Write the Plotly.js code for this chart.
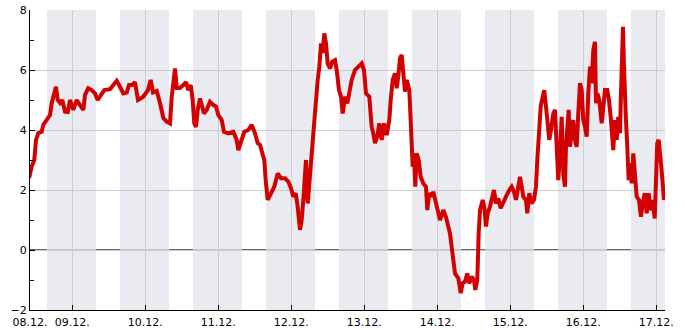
<!DOCTYPE html>
<html>
<head>
<meta charset="utf-8">
<script src="https://cdn.plot.ly/plotly-3.0.1.min.js"></script>
<style>html,body{margin:0;padding:0;background:#fff;}#chart{width:685px;height:330px;}</style>
</head>
<body>
<div id="chart"></div>
<script>
// Hours since 08.12. 00:00 and measured values
const hours = [9.8,10.65,11.5,12.07,12.82,13.94,14.47,15.58,16.67,17.23,18.08,18.64,19.2,19.96,20.71,21.6,22.49,23.24,24.33,25.45,26.53,27.62,28.18,29.26,30.38,31.46,32.35,33.44,34.52,36.39,37.48,38.6,39.68,40.77,41.89,42.64,43.73,44.61,45.6,47.24,48.89,49.78,50.53,51.75,52.83,53.92,55.04,56.12,56.68,57.21,57.77,58.32,59.41,60.49,61.38,62.14,62.93,63.58,64.11,64.67,65.23,65.98,66.74,67.3,68.19,69.27,70.36,71.25,72.0,73.12,73.87,75.29,76.93,78.05,78.58,79.46,80.55,81.86,82.98,84.07,84.95,85.71,86.47,87.12,87.58,88.24,89.33,90.41,91.53,92.61,93.93,95.01,95.9,96.66,97.45,98.1,98.86,99.42,99.95,100.5,100.83,101.39,101.82,102.48,103.04,103.56,104.12,104.68,105.21,105.77,106.32,106.85,107.41,107.97,108.72,109.48,110.37,110.93,111.68,112.34,112.9,113.66,114.41,115.07,115.86,116.94,118.03,119.15,119.9,120.56,121.64,122.43,122.96,123.52,124.28,124.93,125.72,126.48,127.37,128.22,128.68,129.34,130.09,130.65,131.18,131.74,132.3,132.82,133.38,133.94,134.8,135.35,135.91,136.34,136.77,137.23,137.89,138.54,139.4,140.29,140.71,141.37,142.16,142.69,143.57,144.33,144.89,145.97,146.86,148.18,149.06,149.82,150.91,151.7,152.35,153.11,153.86,154.52,155.31,156.07,156.5,157.15,157.61,158.04,158.93,159.45,160.01,160.57,161.33,162.21,162.64,163.3,164.06,164.85,165.7,166.59,167.67,168.46,169.22,169.87,170.63,171.19,171.75,172.27,173.16,173.59,174.25,175.04,175.8,176.45,176.88,177.54,178.0,178.66,179.18,179.74,180.17,180.82,181.38,182.14,182.7,183.26,183.78,184.34,184.9,185.42,185.98,186.31,186.74,187.2,187.63,188.19,188.71,189.27,189.83,190.36,190.92,191.48,192.0,192.56,193.12,193.65,194.21,194.77,195.29,195.85,196.18,196.6,197.26,198.05,198.58,199.13,199.89,200.45,201.01,201.44,201.86,202.42,202.98,203.51,204.07,204.4,204.72,205.05,205.38,205.71,206.04,206.47,206.93,207.36,207.92,208.44,209.0,209.56,210.31,210.97,211.53,212.19,212.85,213.5,214.16,214.82,215.48,215.9,216.33,216.79,217.22,217.65,218.11,218.53,218.96];
const temps = [2.4,2.78,3.0,3.67,3.9,3.94,4.17,4.33,4.5,4.9,5.23,5.44,5.0,4.9,5.0,4.61,4.6,5.0,4.67,5.0,4.83,4.67,5.17,5.39,5.33,5.22,5.0,5.17,5.33,5.36,5.5,5.64,5.44,5.22,5.25,5.5,5.5,5.6,5.0,5.1,5.33,5.67,5.25,5.3,4.9,4.4,4.28,4.22,5.1,5.67,6.05,5.4,5.4,5.5,5.6,5.33,5.5,5.0,4.22,4.1,4.67,5.05,4.67,4.55,4.67,4.94,4.83,4.78,4.5,4.33,3.94,3.89,3.94,3.67,3.33,3.61,3.94,4.0,4.17,3.89,3.56,3.5,3.22,3.0,2.33,1.67,1.89,2.11,2.55,2.39,2.39,2.28,2.06,1.78,1.89,1.44,0.67,1.0,1.67,2.67,3.0,1.55,2.11,3.0,3.67,4.44,5.11,5.67,6.11,6.89,6.56,7.22,6.89,6.22,6.05,6.28,6.33,6.0,5.33,5.11,4.55,5.11,4.89,5.33,5.67,6.0,6.11,6.22,6.0,5.22,5.11,4.11,3.89,3.56,3.78,4.22,3.67,4.22,3.83,4.33,5.0,5.67,5.89,5.39,5.78,6.39,6.5,5.67,5.28,5.67,5.33,4.11,2.78,3.22,2.11,3.22,3.0,2.44,2.22,2.11,1.33,1.89,1.78,1.94,1.55,1.33,1.0,1.33,1.1,0.55,-0.11,-0.78,-0.94,-1.44,-1.11,-1.06,-0.78,-1.11,-0.89,-1.0,-1.33,-1.0,0.55,1.33,1.67,1.44,0.78,1.22,1.44,1.78,2.0,1.55,1.72,1.39,1.55,1.78,2.0,2.11,1.94,1.67,2.11,2.44,2.11,1.78,1.67,1.22,1.89,1.55,1.67,2.11,3.0,3.89,4.78,5.11,5.33,4.78,4.44,3.67,4.0,4.55,4.67,3.67,2.33,3.22,4.44,2.55,2.11,3.44,4.33,4.67,3.44,3.89,4.33,3.67,3.44,4.55,5.56,5.33,4.33,4.11,3.78,5.22,6.11,5.56,6.67,6.94,4.89,5.22,5.0,4.22,4.67,5.33,5.33,5.0,4.44,3.56,3.33,4.33,3.67,4.44,3.89,5.22,6.56,7.44,6.11,4.78,4.33,3.44,2.33,2.89,2.22,3.22,2.55,1.78,1.67,1.11,1.55,1.89,1.22,1.89,1.33,1.67,1.05,2.67,3.56,3.67,3.0,2.78,2.22,1.67,1.89];
const dayLabels = ['08.12.','09.12.','10.12.','11.12.','12.12.','13.12.','14.12.','15.12.','16.12.','17.12.'];
const yTickVals = [-2,0,2,4,6,8];
const rangeStartH = 10.09, rangeEndH = 218.87;
const nightStartH = 15 + 40/60, nightEndH = 7 + 48/60;

const base = Date.UTC(2023, 11, 8, 0, 0, 0);
function pad(n){return String(n).padStart(2,'0');}
function fmt(h){
  const d = new Date(base + h*3600000);
  return d.getUTCFullYear()+'-'+pad(d.getUTCMonth()+1)+'-'+pad(d.getUTCDate())+' '+pad(d.getUTCHours())+':'+pad(d.getUTCMinutes())+':'+pad(d.getUTCSeconds());
}
const xs = hours.map(fmt);

const tickvals = dayLabels.map((l,i)=> i===0 ? fmt(rangeStartH) : fmt(i*24));

const shapes = [];
for (let d=0; d<dayLabels.length; d++){
  shapes.push({type:'rect', xref:'x', yref:'paper', x0:fmt(d*24+nightStartH), x1:fmt((d+1)*24+nightEndH), y0:0, y1:1,
    fillcolor:'#eaebf1', line:{width:0}, layer:'below'});
}
// full-width grey zero line (visible on shaded night bands)
shapes.push({type:'line', xref:'paper', yref:'y', x0:0, x1:1, y0:0, y1:0, line:{color:'#9a9a9a', width:1}, layer:'below'});
// black zero line segments during daytime (white) periods
for (let d=0; d<dayLabels.length; d++){
  const s = Math.max(d*24+nightEndH, rangeStartH), e = Math.min(d*24+nightStartH, rangeEndH);
  if (e > s) shapes.push({type:'line', xref:'x', yref:'y', x0:fmt(s), x1:fmt(e), y0:0, y1:0,
    line:{color:'#000', width:1}, layer:'below'});
}

const font = {family:'DejaVu Sans, sans-serif', size:11, color:'#000'};
Plotly.newPlot('chart', [{
  x: xs, y: temps, type:'scatter', mode:'lines',
  line:{color:'#d20000', width:4}, hoverinfo:'skip'
}], {
  width:685, height:330,
  margin:{l:30, r:20, t:10, b:20, pad:0},
  paper_bgcolor:'#fff', plot_bgcolor:'#fff',
  showlegend:false,
  font: font,
  xaxis:{type:'date', range:[fmt(rangeStartH), fmt(rangeEndH)], tickmode:'array', tickvals:tickvals, ticktext:dayLabels,
    ticks:'inside', ticklen:5, tickcolor:'#000', showline:true, linecolor:'#000', linewidth:1,
    showgrid:true, gridcolor:'#cccccc', gridwidth:1, zeroline:false, tickfont:font, fixedrange:true,
    ticklabelstandoff:2},
  yaxis:{range:[-2,8], tickmode:'array', tickvals:yTickVals, ticks:'inside', ticklen:5, tickcolor:'#000',
    showline:true, linecolor:'#000', linewidth:1, showgrid:true, gridcolor:'#cccccc', gridwidth:1,
    zeroline:false,
    minor:{tickmode:'array', tickvals:[-1,1,3,5,7], ticks:'inside', ticklen:4, tickcolor:'#000', showgrid:false},
    tickfont:font, fixedrange:true},
  shapes: shapes
}, {displayModeBar:false, staticPlot:true});
</script>
</body>
</html>
